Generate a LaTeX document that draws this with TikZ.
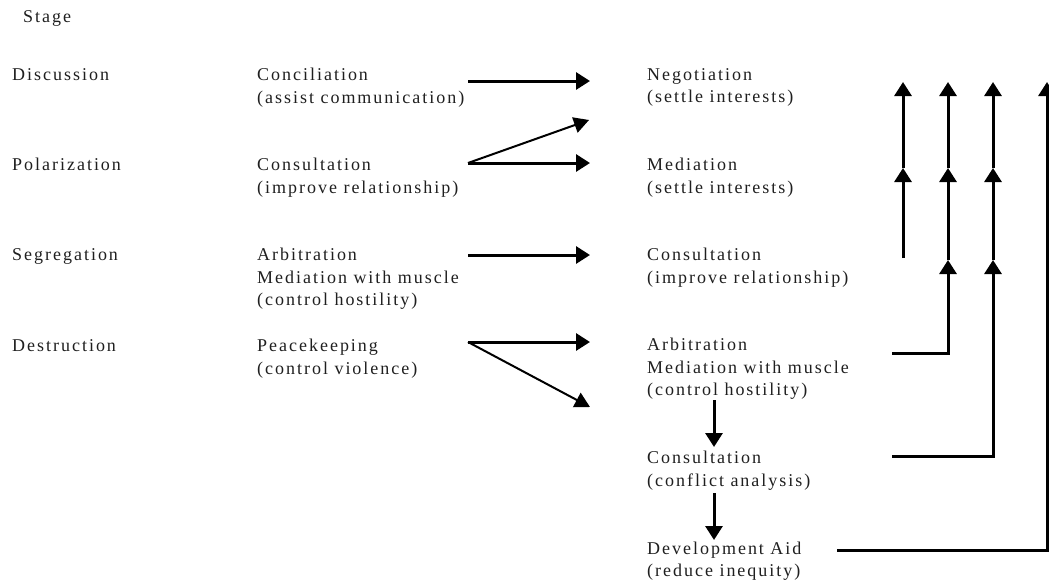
\documentclass[tikz,border=0pt]{standalone}
\usepackage{fontspec}
\setmainfont{Liberation Serif}[LetterSpace=11]
\usetikzlibrary{arrows.meta}
\begin{document}
\begin{tikzpicture}[x=1pt,y=-1pt,
  lbl/.style={anchor=north west,inner sep=0pt,align=left,font=\fontsize{18}{22.5}\selectfont,text=black!88},
  arr/.style={line width=3pt,-{Triangle[length=14pt,width=17pt]}},
  darr/.style={line width=2pt,-{Triangle[length=15pt,width=16pt]}},
  seg/.style={line width=3pt}]
\useasboundingbox (0,0) rectangle (1049,582);
% stage column
\node[lbl] (stage) at (23,10.3) {Stage};
\node[lbl] (s1) at (12,68.3) {Discussion};
\node[lbl] (s2) at (12,158.3) {Polarization};
\node[lbl] (s3) at (12,248.3) {Segregation};
\node[lbl] (s4) at (12,339.3) {Destruction};
% first intervention
\node[lbl] (i1) at (257,68.3) {Conciliation\\(assist communication)};
\node[lbl] (i2) at (257,158.3) {Consultation\\(improve relationship)};
\node[lbl] (i3) at (257,248.3) {Arbitration\\Mediation with muscle\\(control hostility)};
\node[lbl] (i4) at (257,339.3) {Peacekeeping\\(control violence)};
% follow-up interventions
\node[lbl] (o1) at (647,68.3) {Negotiation\\(settle interests)};
\node[lbl] (o2) at (647,158.3) {Mediation\\(settle interests)};
\node[lbl] (o3) at (647,248.3) {Consultation\\(improve relationship)};
\node[lbl] (o4) at (647,338.3) {Arbitration\\Mediation with muscle\\(control hostility)};
\node[lbl] (o5) at (647,451.3) {Consultation\\(conflict analysis)};
\node[lbl] (o6) at (647,541.3) {Development Aid\\(reduce inequity)};
% arrow end points
\coordinate (a1s) at (468,81);  \coordinate (a1e) at (590,81);
\coordinate (a2s) at (468,163); \coordinate (a2e) at (590,163);
\coordinate (a2d) at (589,120);
\coordinate (a3s) at (468,255); \coordinate (a3e) at (590,255);
\coordinate (a4s) at (468,342); \coordinate (a4e) at (590,342);
\coordinate (a4d) at (590,407);
\coordinate (v1s) at (714,400); \coordinate (v1e) at (714,447);
\coordinate (v2s) at (714,493); \coordinate (v2e) at (714,540);
\draw[arr] (a1s) -- (a1e);
\draw[arr] (a2s) -- (a2e);
\draw[darr] (a2s) -- (a2d);
\draw[arr] (a3s) -- (a3e);
\draw[arr] (a4s) -- (a4e);
\draw[darr] (a4s) -- (a4d);
\draw[arr] (v1s) -- (v1e);
\draw[arr] (v2s) -- (v2e);
% right-hand feedback lines
\coordinate (pA0) at (903,258); \coordinate (pA1) at (903,168); \coordinate (pA2) at (903,82);
\coordinate (hB) at (892,353);
\coordinate (pB0) at (948,353); \coordinate (pB1) at (948,260); \coordinate (pB2) at (948,168); \coordinate (pB3) at (948,82);
\coordinate (hC) at (892,456);
\coordinate (pC0) at (993,456); \coordinate (pC1) at (993,260); \coordinate (pC2) at (993,168); \coordinate (pC3) at (993,82);
\coordinate (hD) at (837,550);
\coordinate (pD0) at (1047,550); \coordinate (pD1) at (1047,82);
\draw[arr] (pA0) -- (pA1);
\draw[arr] (pA1) -- (pA2);
\draw[arr] (hB) -- (pB0) -- (pB1);
\draw[arr] (pB1) -- (pB2);
\draw[arr] (pB2) -- (pB3);
\draw[arr] (hC) -- (pC0) -- (pC1);
\draw[arr] (pC1) -- (pC2);
\draw[arr] (pC2) -- (pC3);
\draw[arr] (hD) -- (pD0) -- (pD1);
\end{tikzpicture}
\end{document}
